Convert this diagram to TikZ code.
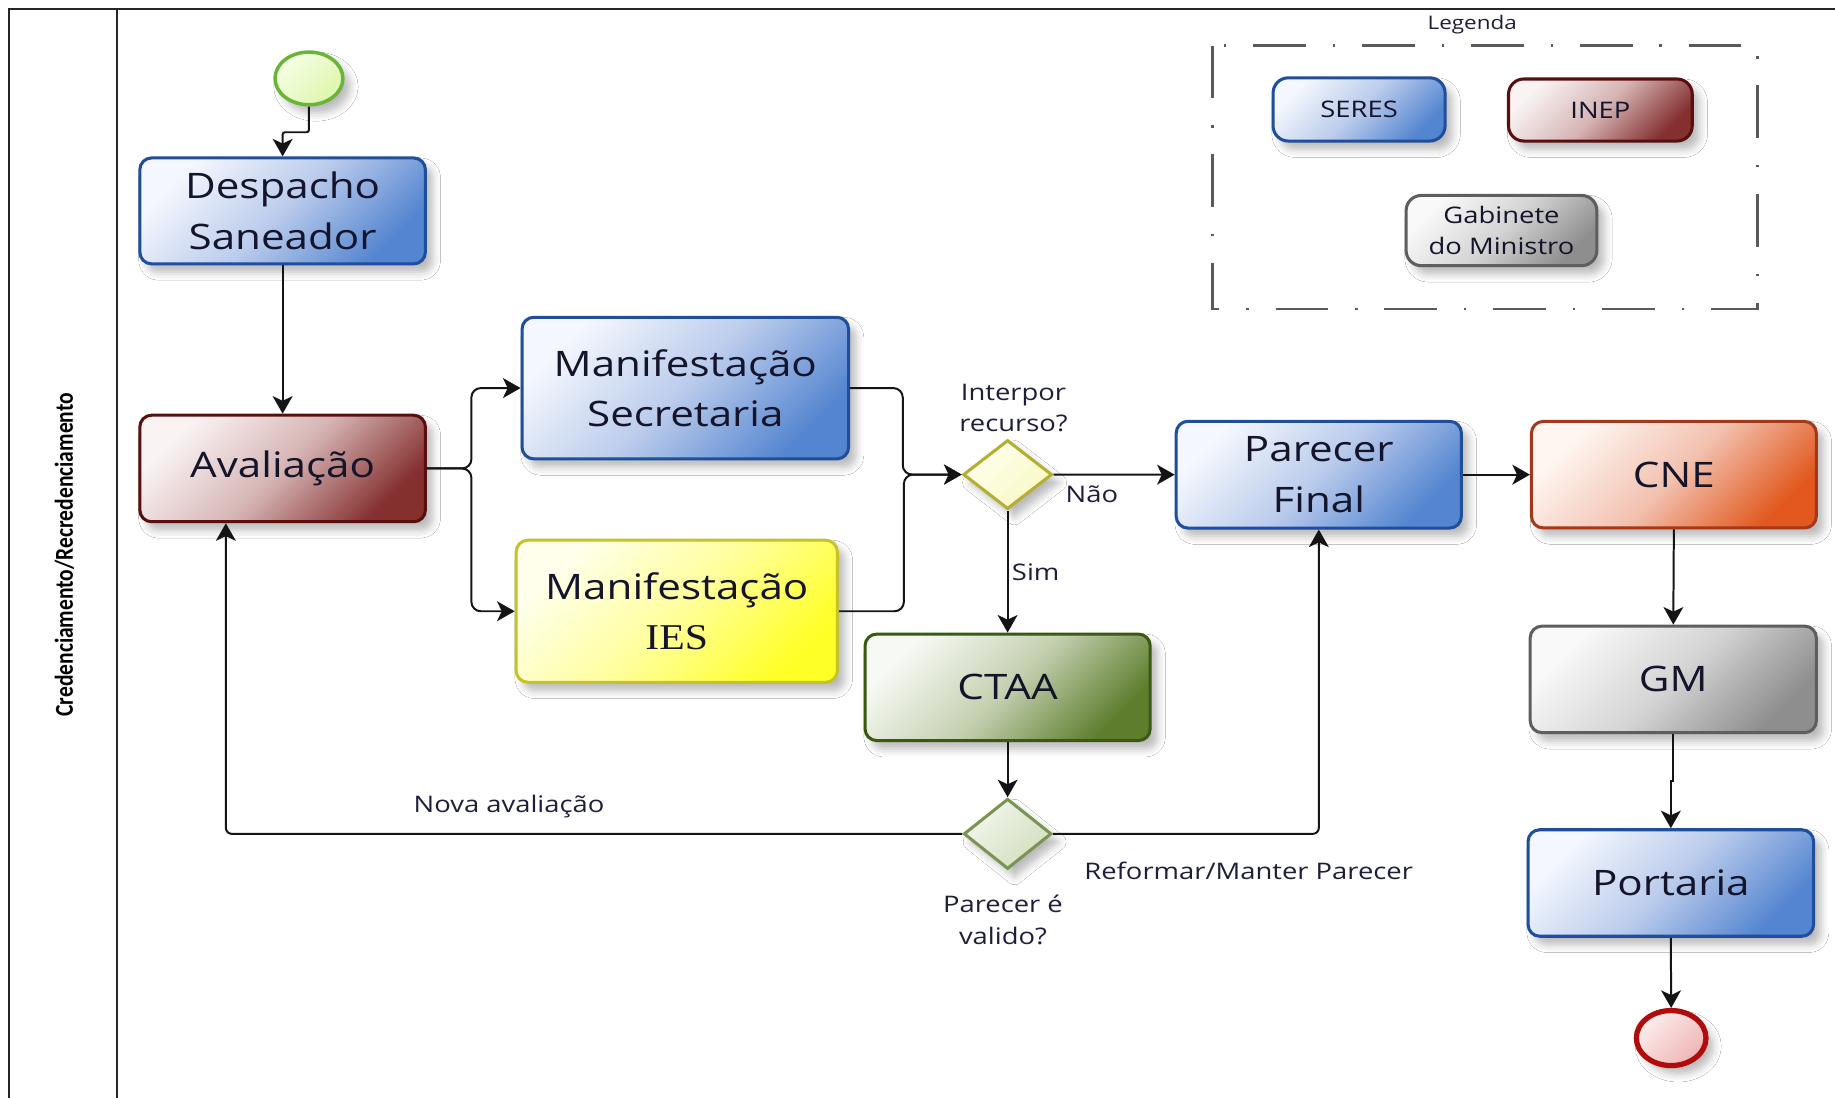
\documentclass[tikz,border=0pt]{standalone}
\usepackage{fontspec}
\setmainfont{Open Sans}[FakeStretch=1.2]
\newfontfamily\iesfont{Liberation Serif}[FakeStretch=1.15]
\newfontfamily\lanefont{Carlito}
\usetikzlibrary{shapes.geometric,arrows.meta,shadows.blur,calc}
\definecolor{txt}{HTML}{14142A}
\definecolor{lbltxt}{HTML}{1E1E3A}
\definecolor{blueB}{HTML}{1F4F9C}
\definecolor{blueL}{HTML}{F4F7FD}
\definecolor{blueM}{HTML}{BACBEC}
\definecolor{blueD}{HTML}{5485D0}
\definecolor{redB}{HTML}{5A0F0F}
\definecolor{redL}{HTML}{F9F3F3}
\definecolor{redM}{HTML}{D6B4B4}
\definecolor{redD}{HTML}{84302F}
\definecolor{yelB}{HTML}{C6C22A}
\definecolor{yelL}{HTML}{FFFFEC}
\definecolor{yelM}{HTML}{FFFF9C}
\definecolor{yelD}{HTML}{FFFF28}
\definecolor{grnB}{HTML}{3A5A12}
\definecolor{grnL}{HTML}{F7F9F4}
\definecolor{grnM}{HTML}{C4D0B0}
\definecolor{grnD}{HTML}{5E7E2E}
\definecolor{gryB}{HTML}{5E5E5E}
\definecolor{gryL}{HTML}{F9F9F9}
\definecolor{gryM}{HTML}{D4D4D4}
\definecolor{gryD}{HTML}{8E8E8E}
\definecolor{orgB}{HTML}{A3381A}
\definecolor{orgL}{HTML}{FFF6F2}
\definecolor{orgM}{HTML}{F2C2B0}
\definecolor{orgD}{HTML}{E2581E}
\definecolor{d1B}{HTML}{B4AF30}
\definecolor{d1L}{HTML}{FFFFEE}
\definecolor{d1D}{HTML}{F8F8C4}
\definecolor{d2B}{HTML}{7C9354}
\definecolor{d2L}{HTML}{F2F6EC}
\definecolor{d2D}{HTML}{D2DEBE}
\definecolor{stB}{HTML}{6AB43A}
\definecolor{stL}{HTML}{F6FFE6}
\definecolor{stD}{HTML}{DDF6AA}
\definecolor{enB}{HTML}{B00C0C}
\definecolor{enL}{HTML}{FDEEEE}
\definecolor{enD}{HTML}{EFB4B4}
\definecolor{legline}{HTML}{5A5A5A}
\tikzset{
  shad/.style={blur shadow={shadow xshift=6pt, shadow yshift=-7pt, shadow blur radius=7pt, shadow opacity=28}},
  box/.style={rectangle, rounded corners=10pt, line width=2.6pt, inner sep=0pt,
    align=center, text=txt, font=\fontsize{30}{43}\selectfont, shad},
  bluebox/.style={box, draw=blueB, top color=blueL, bottom color=blueD, middle color=blueM, shading angle=45},
  redbox/.style={box, draw=redB, top color=redL, bottom color=redD, middle color=redM, shading angle=45},
  yelbox/.style={box, draw=yelB, top color=yelL, bottom color=yelD, middle color=yelM, shading angle=45},
  grnbox/.style={box, draw=grnB, top color=grnL, bottom color=grnD, middle color=grnM, shading angle=45},
  grybox/.style={box, draw=gryB, top color=gryL, bottom color=gryD, middle color=gryM, shading angle=45},
  orgbox/.style={box, draw=orgB, top color=orgL, bottom color=orgD, middle color=orgM, shading angle=45},
  legbox/.style={rounded corners=13pt, font=\fontsize{19.5}{27}\selectfont},
  gate/.style={diamond, inner sep=0pt, line width=2.6pt, shad},
  event/.style={ellipse, inner sep=0pt, shad},
  conn/.style={line width=1.7pt, draw=black!92, rounded corners=5pt,
    -{Stealth[length=15pt,width=17pt,inset=4pt]}},
  lbl/.style={font=\fontsize{19.5}{27}\selectfont, text=lbltxt, align=center, inner sep=0pt},
  frame/.style={line width=1.5pt, draw=black!85},
  legendline/.style={line width=2.2pt, draw=legline, dash pattern=on 45pt off 23pt on 2pt off 23pt}
}
\begin{document}
\begin{tikzpicture}[x=1pt,y=-1pt]
\useasboundingbox (0,0) rectangle (1568,938);
\fill[white] (0,0) rectangle (1568,938);

% pool / lane frame
\draw[frame] (1568,8) -- (8,8) -- (8,938);
\draw[frame] (100,8) -- (100,938);
\node[rotate=90, inner sep=0pt] (lane) at (55,474)
  {\scalebox{1}[1.2]{\lanefont\bfseries\fontsize{18.4}{20}\selectfont Credenciamento/Recredenciamento}};

% legend
\node[lbl, font=\fontsize{16}{20}\selectfont] (legt) at (1258,21) {Legenda};
\draw[legendline] (1036,39) rectangle (1502,264);
\node[bluebox, legbox, minimum width=147pt, minimum height=54pt] (seres) at (1161.3,93.5) {SERES};
\node[redbox, legbox, minimum width=157pt, minimum height=53pt] (inep) at (1367.5,94) {INEP};
\node[grybox, legbox, minimum width=163pt, minimum height=60pt] (gab) at (1283,197) {Gabinete\\do Ministro};

% flow nodes
\node[event, draw=stB, line width=3pt, top color=stL, bottom color=stD, shading angle=45,
  minimum width=58pt, minimum height=45pt] (start) at (264,67) {};
\node[bluebox, minimum width=244pt, minimum height=90.5pt] (desp) at (241.5,180.2) {Despacho\\Saneador};
\node[redbox, minimum width=244pt, minimum height=91pt] (aval) at (241.5,400.3) {Avalia\c{c}\~ao};
\node[bluebox, minimum width=279pt, minimum height=121pt] (sec) at (585.6,331.6) {Manifesta\c{c}\~ao\\Secretaria};
\node[yelbox, minimum width=274.5pt, minimum height=121.4pt] (ies) at (578.3,522.3)
  {Manifesta\c{c}\~ao\\{\iesfont\fontsize{31}{43}\selectfont IES}};
\node[gate, draw=d1B, top color=d1L, bottom color=d1D, shading angle=45,
  minimum width=76pt, minimum height=59pt] (d1) at (861,405.5) {};
\node[bluebox, minimum width=243.7pt, minimum height=91.2pt] (pf) at (1126.9,405.6) {Parecer\\Final};
\node[orgbox, minimum width=243.4pt, minimum height=91pt] (cne) at (1430.3,405.6) {CNE};
\node[grybox, minimum width=244.5pt, minimum height=91pt] (gm) at (1429.8,580.5) {GM};
\node[bluebox, minimum width=244pt, minimum height=91pt] (port) at (1427.7,754.5) {Portaria};
\node[event, draw=enB, line width=4.5pt, top color=enL, bottom color=enD, shading angle=45,
  minimum width=59.5pt, minimum height=47pt] (end) at (1428,887) {};
\node[grnbox, minimum width=243.6pt, minimum height=91pt] (ctaa) at (861,587.3) {CTAA};
\node[gate, draw=d2B, top color=d2L, bottom color=d2D, shading angle=45,
  minimum width=75pt, minimum height=60pt] (d2) at (861,712.5) {};

% labels
\node[lbl] (l1) at (866,348.5) {Interpor\\recurso?};
\node[lbl] (lnao) at (933,422) {N\~ao};
\node[lbl] (lsim) at (885,489) {Sim};
\node[lbl] (lnova) at (435,689) {Nova avalia\c{c}\~ao};
\node[lbl] (lref) at (1067,744) {Reformar/Manter Parecer};
\node[lbl] (l2) at (857,786) {Parecer \'e\\valido?};

% connectors
\draw[conn, rounded corners=2pt] (start.south) -- ++(0,22) -| (desp.north);
\draw[conn] (desp.south) -- (aval.north);
\draw[conn, rounded corners=8pt] (aval.east) -- ++(38,0) |- (sec.west);
\draw[conn, rounded corners=8pt] (aval.east) -- ++(38,0) |- (ies.west);
\draw[conn, rounded corners=8pt] (sec.east) -- ++(45,0) |- (d1.west);
\draw[conn, rounded corners=8pt] (ies.east) -- ++(55.5,0) |- (d1.west);
\draw[conn] (d1.east) -- (pf.west);
\draw[conn] (d1.south) -- (ctaa.north);
\draw[conn] (pf.east) -- (cne.west);
\draw[conn] (cne.south) -- (gm.north);
\draw[conn, sharp corners] (gm.south) -- ++(0,40) -| (port.north);
\draw[conn] (port.south) -- (end.north);
\draw[conn] (ctaa.south) -- (d2.north);
\draw[conn] (d2.west) -| ([xshift=-48.5pt]aval.south);
\draw[conn] (d2.east) -| (pf.south);
\end{tikzpicture}
\end{document}
